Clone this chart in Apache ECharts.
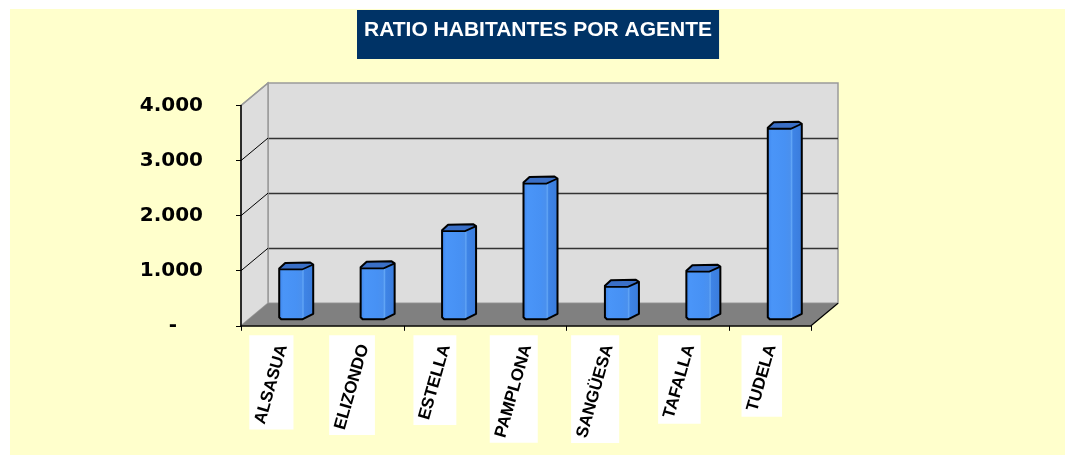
<!DOCTYPE html>
<html><head><meta charset="utf-8">
<script src="https://cdn.jsdelivr.net/npm/echarts@6/dist/echarts.min.js"></script>
<style>
html,body{margin:0;padding:0;background:#fff;}
#bg{position:absolute;left:10px;top:9px;width:1055px;height:446px;background:#FFFFCC;}
#chart{position:absolute;left:0;top:0;width:1065px;height:455px;}
</style></head><body>
<div id="bg"></div><div id="chart"></div>
<script>
const titleText = 'RATIO HABITANTES POR AGENTE';
const categories = ['ALSASUA', 'ELIZONDO', 'ESTELLA', 'PAMPLONA', 'SANGÜESA', 'TAFALLA', 'TUDELA'];
const ratios = [905, 925, 1600, 2465, 590, 865, 3460];
const yTicks = [0, 1000, 2000, 3000, 4000];
const yTickLabels = ['-', '1.000', '2.000', '3.000', '4.000'];

// 3D depth offset (back plane -> front plane)
const DX = -27, DY = 22.5;
const LABEL_FONT = 'bold 17px "Liberation Sans"';
const measureCtx = document.createElement('canvas').getContext('2d');
measureCtx.font = LABEL_FONT;

function renderFrame(params, api) {
  const cs = params.coordSys;
  const X0 = cs.x, X1 = cs.x + cs.width;
  const Yb = api.coord([0, yTicks[0]])[1];
  const Yt = api.coord([0, yTicks[yTicks.length - 1]])[1];
  const children = [];
  children.push({type: 'polygon', shape: {points: [[X0, Yt], [X0, Yb], [X0 + DX, Yb + DY], [X0 + DX, Yt + DY]]},
    style: {fill: '#DDDDDD', stroke: '#9A9A9A', lineWidth: 1.5}});
  children.push({type: 'polygon', shape: {points: [[X0, Yb], [X1, Yb], [X1 + DX, Yb + DY], [X0 + DX, Yb + DY]]},
    style: {fill: '#808080'}});
  children.push({type: 'polyline', shape: {points: [[X1, Yb], [X1 + DX, Yb + DY]]},
    style: {stroke: '#000', lineWidth: 1.2, fill: null}});
  yTicks.slice(1).forEach((t, k) => {
    const y = api.coord([0, t])[1];
    const last = k === yTicks.length - 2;
    children.push({type: 'polyline', shape: {points: [[X0 + DX, y + DY], [X0, y]]},
      style: {stroke: last ? '#9A9A9A' : '#000', lineWidth: last ? 1.5 : 1, fill: null}});
  });
  return {type: 'group', children: children};
}

function renderBar(params, api) {
  const i = api.value(0), v = api.value(1);
  const top = api.coord([i, v]), base = api.coord([i, 0]);
  const w = 23, sx = 11, sy = -5.5;
  const xL = top[0] - 29.5, xR = xL + w + sx;
  const yT = top[1] + 16, yB = base[1] + 16;
  const grad = new echarts.graphic.LinearGradient(0, 0, 1, 0, [
    {offset: 0, color: '#3F86EC'}, {offset: 0.12, color: '#4A95F8'}, {offset: 0.5, color: '#4791F4'},
    {offset: 0.66, color: '#4A90EE'}, {offset: 0.7, color: '#62A6F6'}, {offset: 0.74, color: '#3E84E6'},
    {offset: 1, color: '#3A7CDC'}]);
  return {type: 'group', children: [
    {type: 'polygon', shape: {points: [[xL, yT], [xL + w, yT], [xR, yT + sy], [xR, yB + sy], [xL + w, yB], [xL + 2, yB], [xL, yB - 2]]},
      style: {fill: grad}},
    {type: 'polygon', shape: {points: [[xL, yT - 1], [xL + 6, yT - 6.5], [xR - 3, yT - 7], [xR, yT - 5], [xL + w, yT], [xL + 1, yT]]},
      style: {fill: '#3A6FC6'}},
    {type: 'polygon', shape: {points: [[xL, yB - 2], [xL, yT - 1], [xL + 6, yT - 6.5], [xR - 3, yT - 7], [xR, yT - 5], [xR, yB + sy], [xL + w, yB], [xL + 2, yB]]},
      style: {fill: null, stroke: '#000', lineWidth: 2, lineJoin: 'round'}},
    {type: 'polyline', shape: {points: [[xL, yT], [xL + w, yT], [xR, yT - 5]]},
      style: {fill: null, stroke: '#000', lineWidth: 1.8}}
  ]};
}

function renderLabel(params, api) {
  const i = api.value(0);
  const c = api.coord([i, 0]);
  const txt = categories[i];
  const L = measureCtx.measureText(txt).width;
  const h = 12;
  const ang = 74 * Math.PI / 180, cs = Math.cos(ang), sn = Math.sin(ang);
  const ex = c[0] + 1, ey = c[1] + 19;
  const minX = ex - L * cs - h / 2 * sn, maxX = ex + h / 2 * sn;
  const minY = ey - h / 2 * cs, maxY = ey + L * sn + h / 2 * cs;
  return {type: 'group', children: [
    {type: 'rect', shape: {x: minX - 5, y: minY - 8, width: maxX - minX + 10, height: maxY - minY + 12}, style: {fill: '#fff'}},
    {type: 'text', x: ex, y: ey, rotation: ang,
      style: {text: txt, font: LABEL_FONT, fill: '#000', align: 'right', verticalAlign: 'middle'}}
  ]};
}

const chart = echarts.init(document.getElementById('chart'));
chart.setOption({
  animation: false,
  backgroundColor: 'transparent',
  title: {
    text: titleText, left: 357, top: 10, backgroundColor: '#003366', padding: [10, 7, 18, 7],
    textStyle: {color: '#fff', fontFamily: 'Liberation Sans', fontWeight: 'bold', fontSize: 21, lineHeight: 21}
  },
  grid: [
    {left: 268, top: 83, width: 570, height: 220.3, show: true, backgroundColor: '#DDDDDD', borderColor: '#9A9A9A', borderWidth: 1.5},
    {left: 241, top: 105.5, width: 570, height: 220.3}
  ],
  xAxis: [
    {type: 'category', gridIndex: 0, data: categories, show: false},
    {type: 'category', gridIndex: 1, data: categories, z: 10,
      axisLine: {lineStyle: {color: '#000', width: 1.5}},
      axisTick: {show: true, length: 5, lineStyle: {color: '#000', width: 1}},
      axisLabel: {show: false}}
  ],
  yAxis: [
    {type: 'value', gridIndex: 0, min: 0, max: 4000, interval: 1000,
      axisLine: {show: false}, axisTick: {show: false}, axisLabel: {show: false},
      splitLine: {show: true, showMinLine: false, showMaxLine: false, lineStyle: {color: '#333', width: 1.4}}},
    {type: 'value', gridIndex: 1, min: 0, max: 4000, interval: 1000, z: 10,
      axisLine: {show: true, lineStyle: {color: '#000', width: 1.5}},
      axisTick: {show: true, length: 5, lineStyle: {color: '#000', width: 1}},
      splitLine: {show: false},
      axisLabel: {
        margin: 38, color: '#000', fontFamily: 'DejaVu Sans', fontWeight: 'bold', fontSize: 20,
        formatter: function (val) {
          const k = yTicks.indexOf(val);
          return k === 0 ? '{z|' + yTickLabels[0] + '}' : yTickLabels[k];
        },
        rich: {z: {fontFamily: 'DejaVu Sans', fontWeight: 'bold', fontSize: 20, color: '#000', padding: [0, 26, 0, 0]}}
      }}
  ],
  series: [
    {type: 'custom', xAxisIndex: 0, yAxisIndex: 0, z: 1, silent: true, data: [[0, 0]], renderItem: renderFrame},
    {type: 'custom', xAxisIndex: 0, yAxisIndex: 0, z: 3, data: ratios.map((v, i) => [i, v]),
      encode: {x: 0, y: 1}, renderItem: renderBar},
    {type: 'custom', xAxisIndex: 1, yAxisIndex: 1, z: 3, silent: true, data: categories.map((c, i) => [i, 0]),
      encode: {x: 0, y: 1}, renderItem: renderLabel}
  ]
});
</script>
</body></html>
